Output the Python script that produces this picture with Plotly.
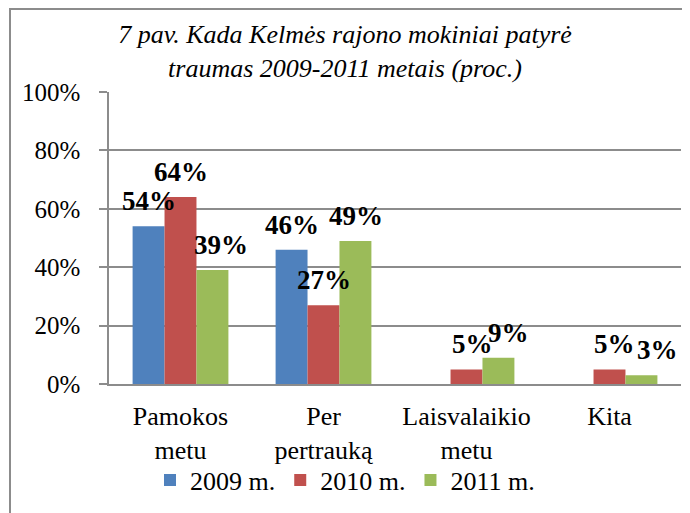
import plotly.graph_objects as go

categories = ["Pamokos<br>metu", "Per<br>pertrauką", "Laisvalaikio<br>metu", "Kita"]
series_names = ["2009 m.", "2010 m.", "2011 m."]
v2009 = [54, 46, 0, 0]
v2010 = [64, 27, 5, 5]
v2011 = [39, 49, 9, 3]
colors = ["#4F81BD", "#C0504D", "#9BBB59"]
y_ticks = [0, 20, 40, 60, 80, 100]

FONT = "Liberation Serif"
GRID = "#8C8C8C"

W, H = 682, 505
L, T, R, B = 101, 84, 9, 129
PW, PH = W - L - R, H - T - B

fig = go.Figure()
all_vals = [v2009, v2010, v2011]
for name, vals, col in zip(series_names, all_vals, colors):
    fig.add_trace(go.Bar(
        x=categories, y=vals, name=name,
        marker=dict(color=col, line=dict(width=0)),
    ))

# data labels
bar_px = 32
label_xshift = {(2, 1): 6, (2, 2): 10, (3, 1): 5, (3, 2): 16, (0, 2): 8}
for si, vals in enumerate(all_vals):
    for ci, v in enumerate(vals):
        if v == 0:
            continue
        fig.add_annotation(
            x=categories[ci], y=v, text=f"<b>{v}%</b>", showarrow=False,
            xshift=(si - 1) * bar_px + label_xshift.get((ci, si), 0), yshift=25,
            font=dict(family=FONT, size=27, color="black"),
        )

# chart border
fig.add_shape(type="rect", xref="paper", yref="paper",
              x0=(2 - L) / PW, x1=1.2, y0=-1.0, y1=(PH + T - 1) / PH,
              line=dict(color="#8C8C8C", width=2), fillcolor="rgba(0,0,0,0)")

fig.update_layout(
    width=W, height=H,
    margin=dict(l=L, r=R, t=T, b=B, autoexpand=False),
    paper_bgcolor="white", plot_bgcolor="white",
    barmode="group", bargap=0.33, bargroupgap=0,
    font=dict(family=FONT, size=26, color="black"),
    title=dict(
        text="<i>7 pav. Kada Kelmės rajono mokiniai patyrė<br>traumas 2009-2011 metais (proc.)</i>",
        x=(345 - 8) / W, xref="container", xanchor="center",
        y=1 - 35 / H, yref="container", yanchor="top",
        font=dict(family=FONT, size=26, color="black"),
    ),
    xaxis=dict(
        showline=True, linecolor=GRID, linewidth=2,
        showgrid=False, ticks="", tickfont=dict(family=FONT, size=26, color="black"),
        ticklabelstandoff=8,
    ),
    yaxis=dict(
        range=[0, 100], tickvals=y_ticks, ticktext=[f"{t}%" for t in y_ticks],
        showgrid=True, gridcolor=GRID, gridwidth=1.5,
        showline=True, linecolor=GRID, linewidth=1.5,
        ticks="outside", ticklen=8, tickcolor=GRID, tickwidth=1.5,
        zeroline=False, tickfont=dict(family=FONT, size=25, color="black"),
        ticklabelstandoff=14,
    ),
    legend=dict(
        orientation="h", x=(345 - 8 - L) / PW, xanchor="center",
        y=(PH - (480 - 8 - T)) / PH, yanchor="middle",
        bgcolor="rgba(0,0,0,0)",
        font=dict(family=FONT, size=26, color="black"),
        itemwidth=30, tracegroupgap=0,
    ),
    showlegend=True,
)

fig.write_html("out.html")
